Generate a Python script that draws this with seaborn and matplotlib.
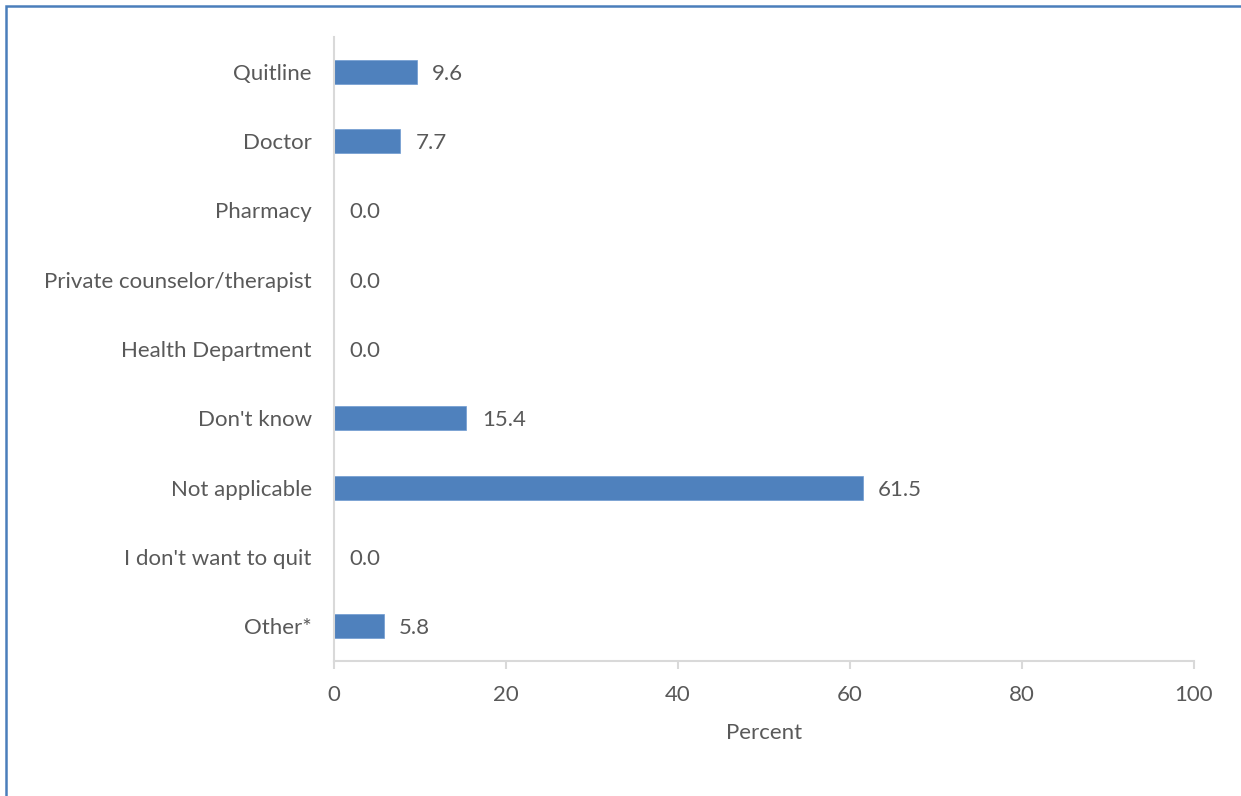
import matplotlib
matplotlib.use("Agg")
import matplotlib.pyplot as plt
import seaborn as sns
import pandas as pd
from matplotlib.patches import Rectangle

categories = ["Quitline", "Doctor", "Pharmacy", "Private counselor/therapist",
              "Health Department", "Don't know", "Not applicable",
              "I don't want to quit", "Other*"]
values = [9.6, 7.7, 0.0, 0.0, 0.0, 15.4, 61.5, 0.0, 5.8]
xticks = [0, 20, 40, 60, 80, 100]
xlabel = "Percent"

sns.set_theme(style="white")
plt.rcParams['font.family'] = ['Lato', 'DejaVu Sans']

text_color = "#595959"
axis_color = "#d9d9d9"
bar_color = "#4f81bd"
fs = 16

df = pd.DataFrame({"category": categories, "value": values})

fig = plt.figure(figsize=(12.41, 7.96), dpi=100)
ax = fig.add_axes([334/1241, 135/796, (1194-334)/1241, (661-37)/796])

sns.barplot(data=df, y="category", x="value", orient="h", color=bar_color,
            width=0.35, ax=ax, saturation=1, edgecolor="#6f9bd1", linewidth=0.5)

ax.set_xlim(0, 100)
ax.set_ylim(len(categories) - 0.5, -0.5)
ax.set_xticks(xticks)
ax.set_xticklabels([str(t) for t in xticks])
ax.set_xlabel(xlabel, fontsize=fs, color=text_color, labelpad=13)
ax.set_ylabel("")

for s in ["top", "right"]:
    ax.spines[s].set_visible(False)
for s in ["left", "bottom"]:
    ax.spines[s].set_visible(True)
    ax.spines[s].set_color(axis_color)
    ax.spines[s].set_linewidth(1.5)

ax.tick_params(axis="x", which="both", direction="out", length=6, width=1.5,
               color=axis_color, labelcolor=text_color, labelsize=fs, pad=11.5,
               bottom=True)
ax.tick_params(axis="y", length=0, labelcolor=text_color, labelsize=fs, pad=16)

for i, v in enumerate(values):
    ax.annotate(f"{v:.1f}", xy=(v, i), xytext=(11, 0), textcoords="offset points",
                va="center_baseline", ha="left", fontsize=fs, color=text_color)

fig.patches.append(Rectangle((5.5/1241, -0.05), 1.2, 1.05 - 5.5/796,
                             transform=fig.transFigure, fill=False,
                             edgecolor="#4a7ebb", linewidth=1.8, figure=fig))

fig.savefig("out.png", dpi=100)
